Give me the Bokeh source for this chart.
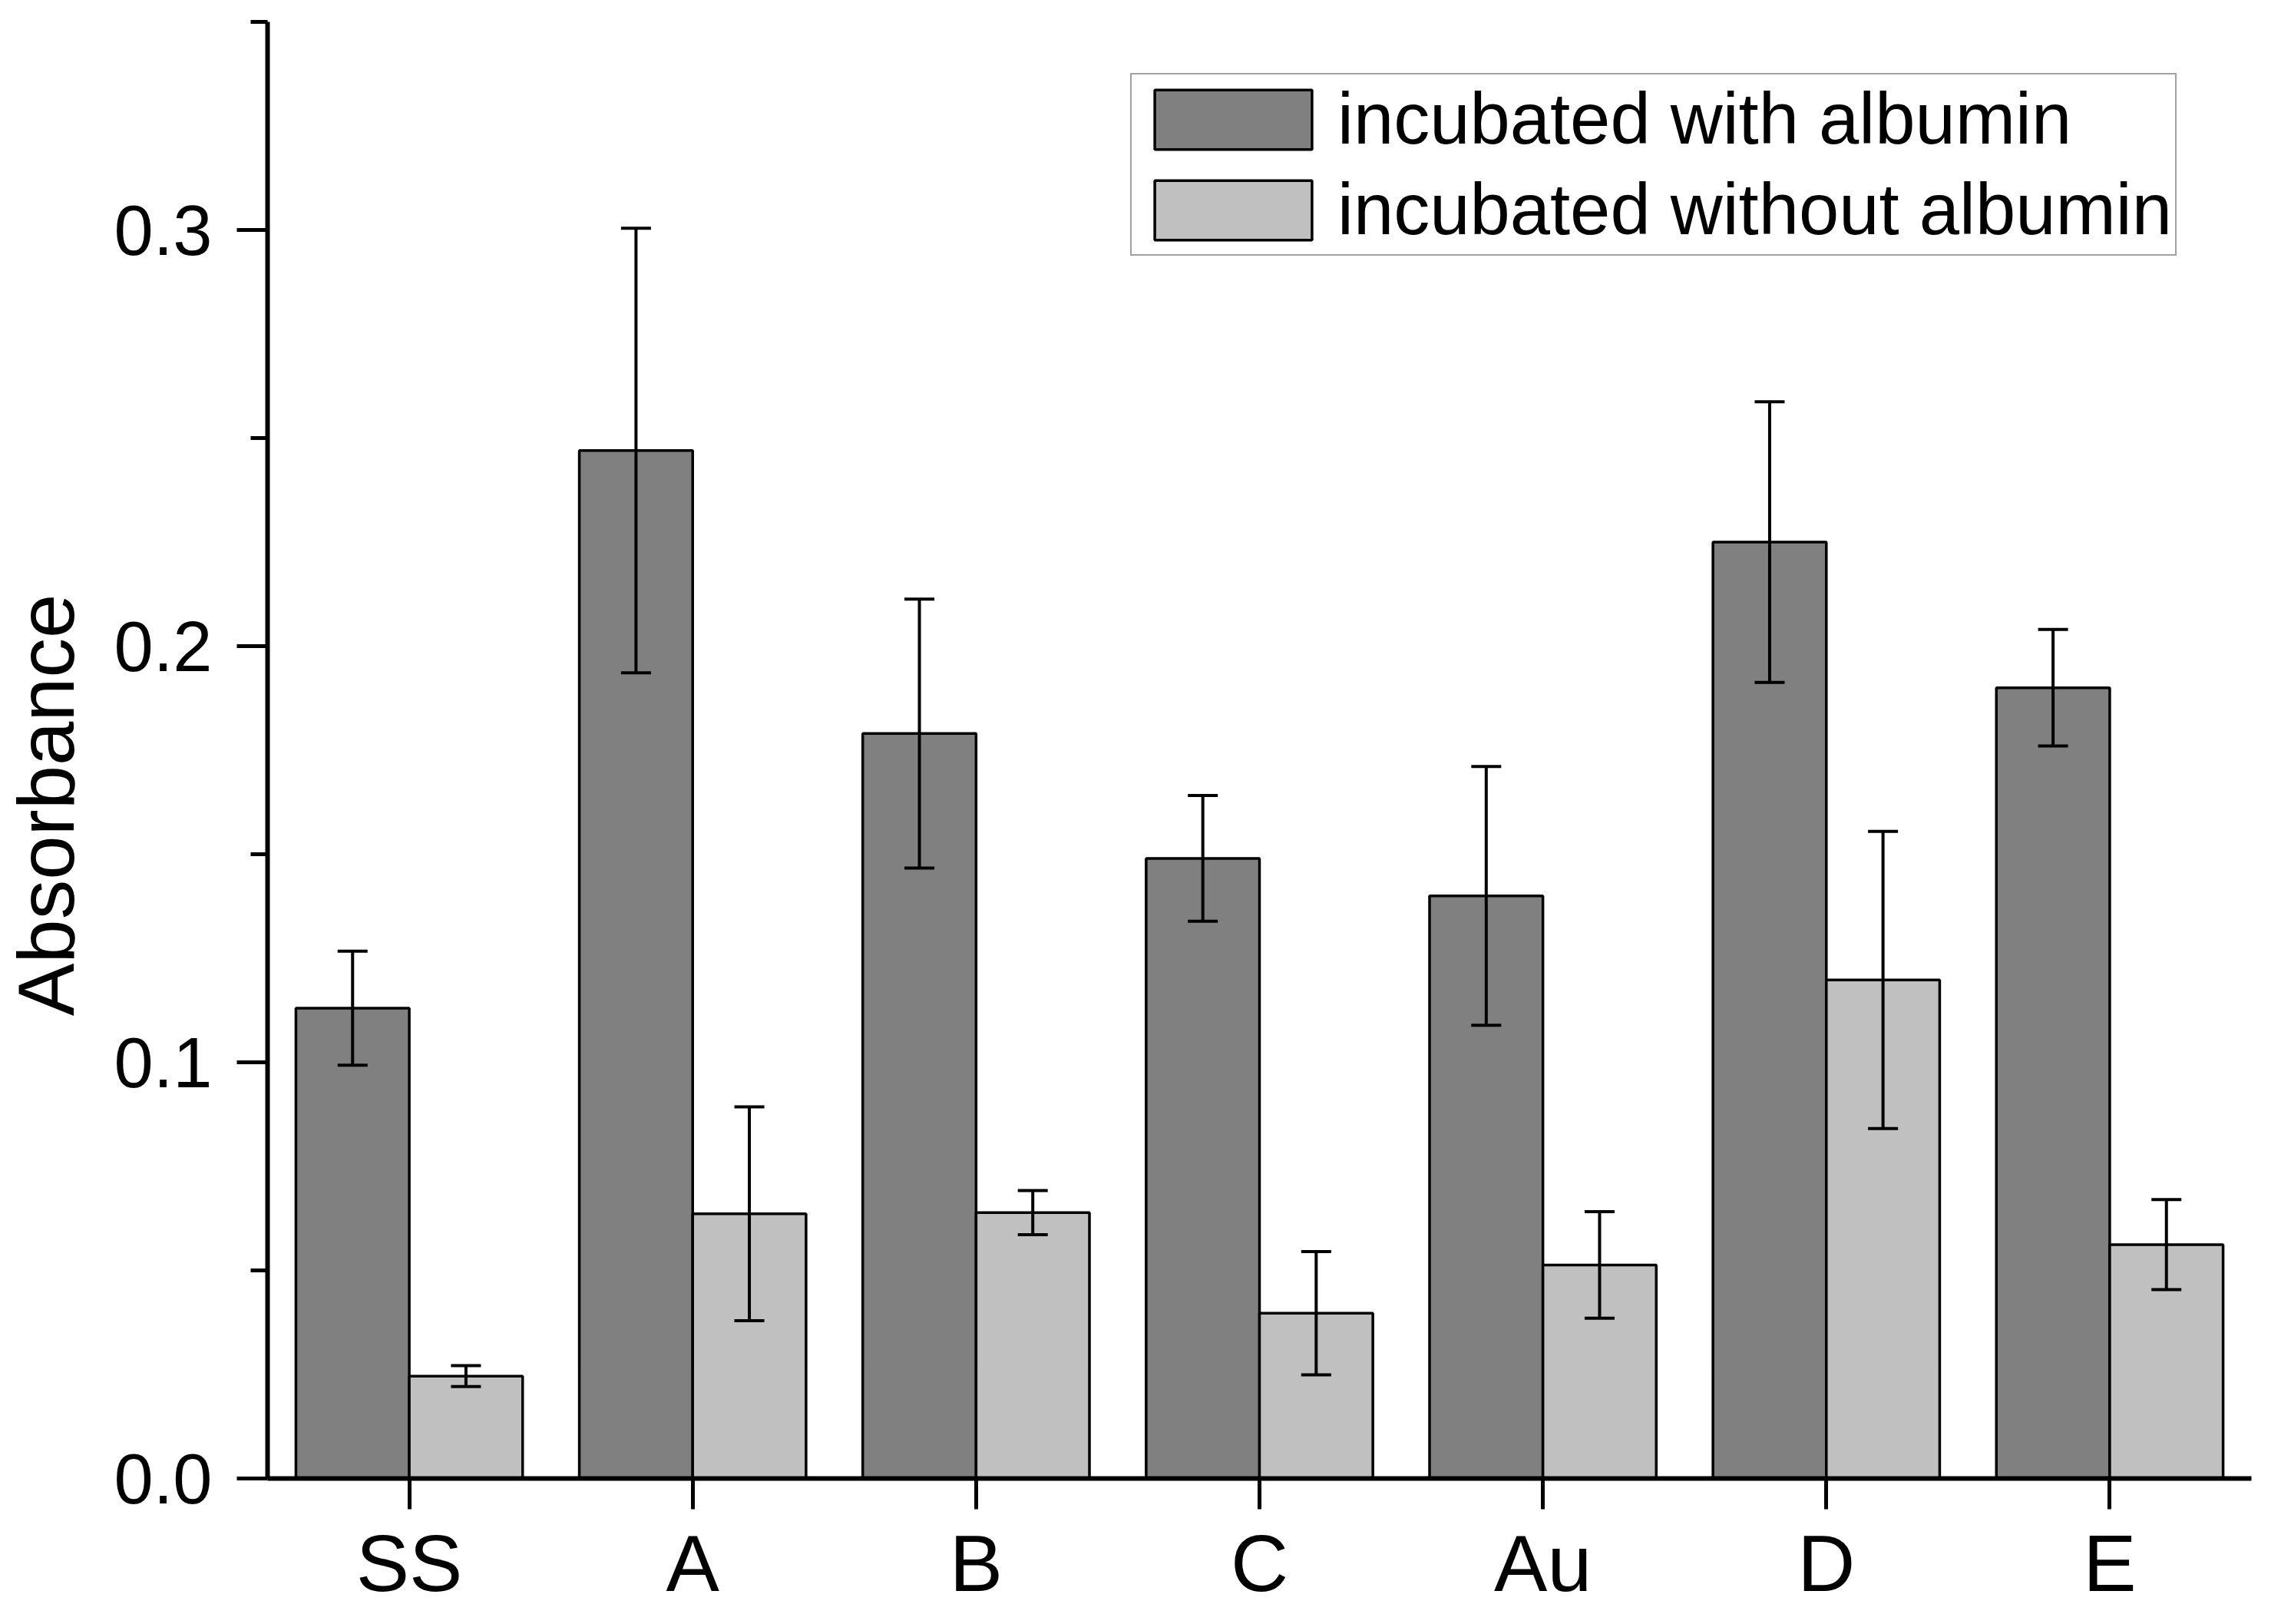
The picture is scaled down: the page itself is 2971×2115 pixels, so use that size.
import math
from bokeh.plotting import figure
from bokeh.layouts import row
from bokeh.models import (ColumnDataSource, FactorRange, FixedTicker, PrintfTickFormatter,
                          Whisker, TeeHead, Legend, LegendItem, Range1d)
from bokeh.core.properties import value
from bokeh.transform import dodge
from bokeh.embed import file_html
from bokeh.resources import INLINE

categories = ["SS", "A", "B", "C", "Au", "D", "E"]
with_albumin = [0.113, 0.247, 0.179, 0.149, 0.140, 0.225, 0.190]
with_err = [0.0137, 0.0534, 0.0323, 0.0151, 0.0311, 0.0337, 0.0140]
without_albumin = [0.0246, 0.0636, 0.0639, 0.0397, 0.0513, 0.1198, 0.0562]
without_err = [0.0025, 0.0257, 0.0053, 0.0148, 0.0128, 0.0357, 0.0108]
y_ticks = [0.0, 0.1, 0.2, 0.3]
y_minor_ticks = [0.05, 0.15, 0.25, 0.35]
series_labels = ["incubated with albumin", "incubated without albumin"]
y_title = "Absorbance"

FONT = "Liberation Sans"
DARK = "#808080"
LIGHT = "#c0c0c0"
TOTAL_H = 2099
TITLE_W = 145

src = ColumnDataSource(data=dict(
    cat=categories,
    w=with_albumin,
    w_up=[v + e for v, e in zip(with_albumin, with_err)],
    w_lo=[v - e for v, e in zip(with_albumin, with_err)],
    wo=without_albumin,
    wo_up=[v + e for v, e in zip(without_albumin, without_err)],
    wo_lo=[v - e for v, e in zip(without_albumin, without_err)],
))

p = figure(x_range=FactorRange(*categories), y_range=(0, 0.35),
           frame_width=2584, frame_height=1897, title=None,
           min_border_left=202, min_border_top=28, min_border_right=24, min_border_bottom=140,
           output_backend="svg", toolbar_location=None)
p.background_fill_color = "white"
p.border_fill_color = "white"
p.outline_line_color = None
p.xgrid.visible = False
p.ygrid.visible = False

r1 = p.vbar(x=dodge("cat", -0.2, range=p.x_range), top="w", width=0.4, source=src,
            fill_color=DARK, line_color="black", line_width=3.5)
r2 = p.vbar(x=dodge("cat", 0.2, range=p.x_range), top="wo", width=0.4, source=src,
            fill_color=LIGHT, line_color="black", line_width=3.5)

for base, up, lo in [(-0.2, "w_up", "w_lo"), (0.2, "wo_up", "wo_lo")]:
    wk = Whisker(source=src, base=dodge("cat", base, range=p.x_range), upper=up, lower=lo,
                 dimension="height", line_color="black", line_width=4, level="overlay",
                 upper_head=TeeHead(size=39, line_color="black", line_width=4),
                 lower_head=TeeHead(size=39, line_color="black", line_width=4))
    p.add_layout(wk)

# axes
for ax in (p.xaxis[0], p.yaxis[0]):
    ax.axis_line_width = 6
    ax.axis_line_color = "black"
    ax.major_tick_line_width = 5
    ax.major_tick_line_color = "black"
    ax.major_tick_in = 0
    ax.major_tick_out = 40
    ax.major_label_text_font = FONT
    ax.major_label_text_color = "black"

xa = p.xaxis[0]
xa.major_label_text_font_size = "104px"
xa.major_label_standoff = 12

ya = p.yaxis[0]
ya.ticker = FixedTicker(ticks=y_ticks, minor_ticks=y_minor_ticks)
ya.formatter = PrintfTickFormatter(format="%.1f")
ya.major_label_text_font_size = "92px"
ya.major_label_standoff = 32
ya.minor_tick_in = 0
ya.minor_tick_out = 22
ya.minor_tick_line_width = 5
ya.minor_tick_line_color = "black"

legend = Legend(items=[LegendItem(label=series_labels[0], renderers=[r1]),
                       LegendItem(label=series_labels[1], renderers=[r2])],
                location=(1124, 1592), orientation="vertical",
                glyph_width=256, glyph_height=97, label_standoff=8,
                label_text_font=FONT, label_text_font_size="94px", label_text_color="black",
                padding=4, spacing=10, margin=0,
                border_line_color="#444444", border_line_width=2,
                background_fill_color="white", background_fill_alpha=1.0)
p.add_layout(legend)

# narrow panel on the left carrying the rotated y-axis title
tf = figure(frame_width=TITLE_W, frame_height=TOTAL_H, title=None,
            x_range=Range1d(0, TITLE_W), y_range=Range1d(0, TOTAL_H),
            min_border=0, x_axis_location=None, y_axis_location=None,
            output_backend="svg", toolbar_location=None)
tf.outline_line_color = None
tf.xgrid.visible = False
tf.ygrid.visible = False
tf.background_fill_color = "white"
tf.border_fill_color = "white"
tf.text(x=[60], y=[TOTAL_H - 1020], text=[y_title], angle=math.pi / 2,
        text_align="center", text_baseline="middle",
        text_font=value(FONT), text_font_size="103px", text_color="black")

layout = row(tf, p, spacing=0)
open("out.html", "w").write(file_html(layout, INLINE))
